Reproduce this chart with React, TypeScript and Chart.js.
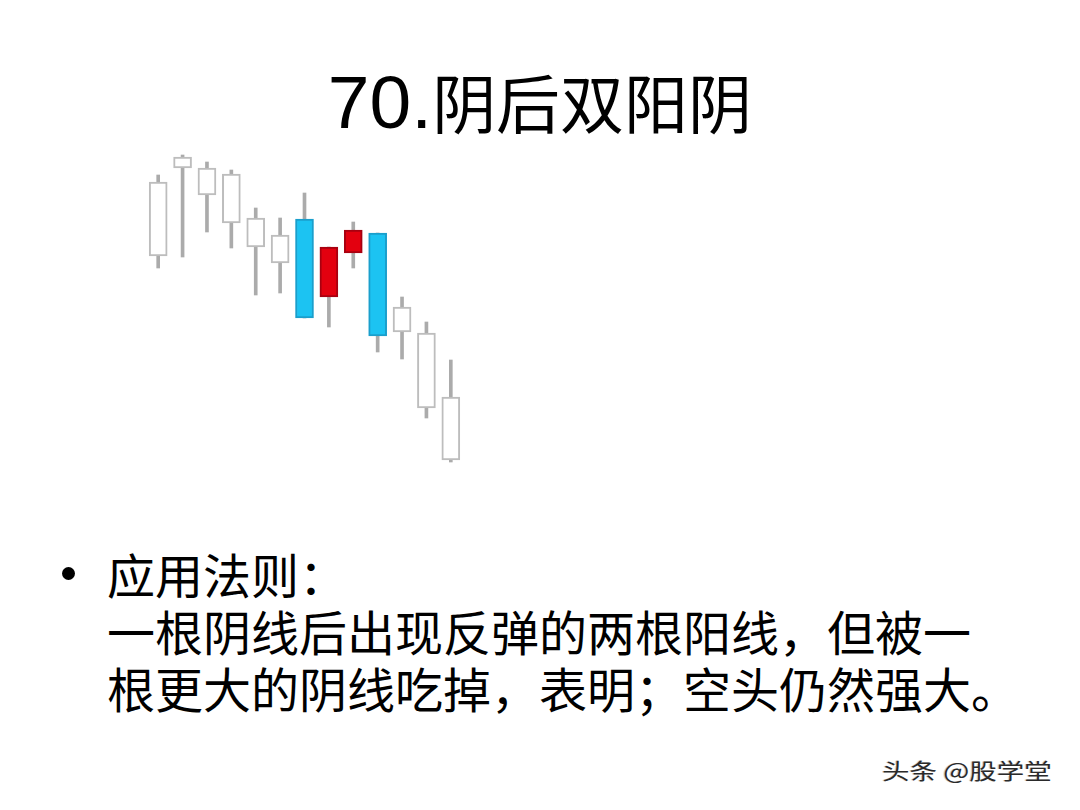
import { useEffect, useRef } from "react";
import { Chart, registerables, type ChartConfiguration } from "chart.js";

Chart.register(...registerables);

// 13 daily candles (arbitrary price units)
const DAYS = ["1", "2", "3", "4", "5", "6", "7", "8", "9", "10", "11", "12", "13"];
const OPEN = [21.4, 30.2, 30.2, 29.6, 25.2, 23.5, 25.1, 17.3, 21.7, 23.7, 13.8, 6.2, 1.0];
const CLOSE = [28.8, 31.3, 27.5, 24.7, 22.3, 20.7, 15.2, 22.3, 24.0, 13.4, 16.3, 13.7, 7.3];
const HIGH = [29.5, 31.5, 30.8, 30.0, 26.2, 25.2, 27.7, 22.3, 24.8, 23.7, 17.3, 14.8, 11.0];
const LOW = [20.2, 21.3, 23.8, 22.2, 17.5, 17.7, 15.2, 14.3, 20.2, 11.8, 11.1, 5.2, 0.8];

// candles 7..10 form the pattern: 阴 + 两阳 + 大阴
const PATTERN_FROM = 6;
const PATTERN_TO = 9;

const UP_FILL = "#e3000f";
const UP_EDGE = "#a80010";
const DOWN_FILL = "#1cc3f2";
const DOWN_EDGE = "#1a9fcc";
const PLAIN_EDGE = "#bdbdbd";

const CJK = "'Noto Sans CJK SC', 'Noto Sans', sans-serif";

function CandleChart() {
  const ref = useRef<HTMLCanvasElement>(null);

  useEffect(() => {
    if (!ref.current) return;
    const inPattern = (i: number) => i >= PATTERN_FROM && i <= PATTERN_TO;
    const fill = DAYS.map((_, i) =>
      inPattern(i) ? (CLOSE[i] > OPEN[i] ? UP_FILL : DOWN_FILL) : "#ffffff"
    );
    const edge = DAYS.map((_, i) =>
      inPattern(i) ? (CLOSE[i] > OPEN[i] ? UP_EDGE : DOWN_EDGE) : PLAIN_EDGE
    );

    const config: ChartConfiguration<"bar", [number, number][], string> = {
      type: "bar",
      data: {
        labels: DAYS,
        datasets: [
          {
            label: "body",
            data: DAYS.map((_, i) => [OPEN[i], CLOSE[i]] as [number, number]),
            backgroundColor: fill,
            borderColor: edge,
            borderWidth: 2,
            borderSkipped: false,
            barThickness: 18,
            grouped: false,
          },
          {
            label: "wick",
            data: DAYS.map((_, i) => [LOW[i], HIGH[i]] as [number, number]),
            backgroundColor: "#ababab",
            borderWidth: 0,
            barThickness: 3,
            grouped: false,
          },
        ],
      },
      options: {
        animation: false,
        responsive: false,
        layout: { padding: 20 },
        scales: {
          x: { display: false, offset: true },
          y: { display: false, min: 0, max: 32 },
        },
        plugins: {
          legend: { display: false },
          tooltip: { enabled: false },
        },
      },
    };

    const chart = new Chart(ref.current, config);
    return () => chart.destroy();
  }, []);

  return (
    <canvas
      ref={ref}
      width={357}
      height={360}
      style={{ position: "absolute", left: 126, top: 130, width: 357, height: 360 }}
    />
  );
}

export default function App() {
  return (
    <div
      style={{
        position: "fixed",
        left: 0,
        top: 0,
        width: 1080,
        height: 810,
        background: "#fff",
        overflow: "hidden",
      }}
    >
      <div
        style={{
          position: "absolute",
          left: 0,
          top: 60,
          width: 1080,
          textAlign: "center",
          fontFamily: CJK,
          fontSize: 64,
          lineHeight: "80px",
          color: "#000",
          whiteSpace: "nowrap",
        }}
      >
        <span style={{ fontFamily: "'Liberation Sans', Arial, sans-serif", fontSize: 75 }}>70.</span>
        阴后双阳阴
      </div>

      <CandleChart />

      <div
        style={{
          position: "absolute",
          left: 62,
          top: 567,
          width: 13,
          height: 13,
          borderRadius: "50%",
          background: "#000",
        }}
      />
      <div
        style={{
          position: "absolute",
          left: 107,
          top: 545,
          fontFamily: CJK,
          fontSize: 48,
          lineHeight: "57px",
          color: "#000",
          whiteSpace: "nowrap",
        }}
      >
        应用法则：
        <br />
        一根阴线后出现反弹的两根阳线，但被一
        <br />
        根更大的阴线吃掉，表明；空头仍然强大。
      </div>

      <div
        style={{
          position: "absolute",
          left: 882,
          top: 756,
          fontFamily: CJK,
          fontSize: 22,
          lineHeight: "26px",
          color: "#2a2a2a",
          whiteSpace: "nowrap",
          transform: "scaleX(1.25)",
          transformOrigin: "left center",
          textShadow: "1px 1px 0 #ffffff, -1px 0 0 #cfcfcf",
        }}
      >
        头条 @股学堂
      </div>
    </div>
  );
}
